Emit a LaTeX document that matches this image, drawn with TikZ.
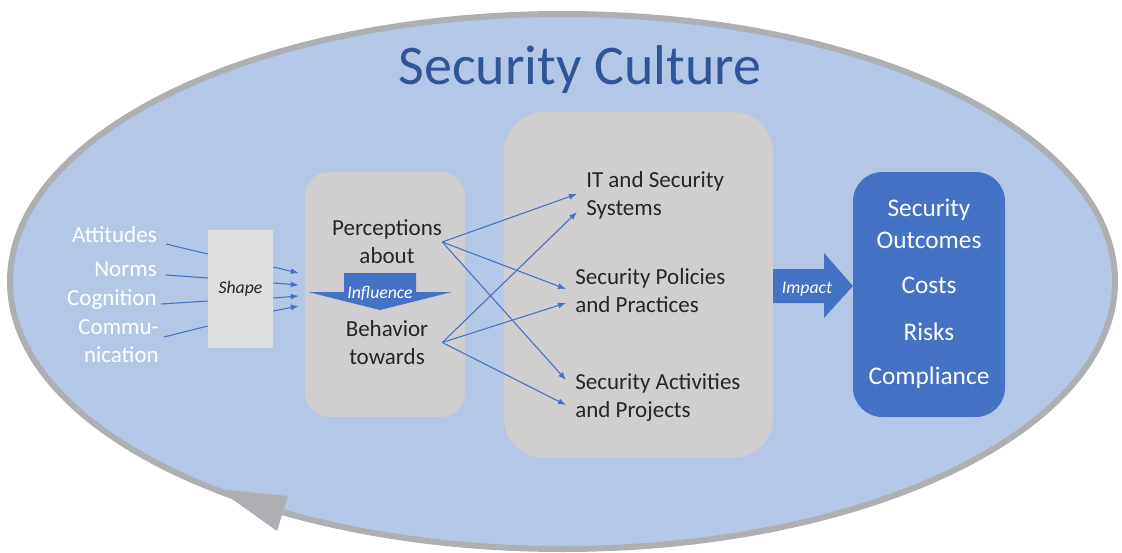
\documentclass[tikz,border=0pt]{standalone}
\usepackage{fontspec}
\setmainfont{Carlito}
\usetikzlibrary{arrows.meta,calc}

\definecolor{culture}{HTML}{B4C7E7}
\definecolor{rim}{HTML}{AEAFB2}
\definecolor{panelgray}{HTML}{D0CECE}
\definecolor{shapegray}{HTML}{DDDEE0}
\definecolor{accent}{HTML}{4472C4}
\definecolor{titleblue}{HTML}{2F5597}
\definecolor{ink}{HTML}{262626}

\tikzset{
	panel/.style = {fill = panelgray, inner sep = 0pt},
	factor/.style = {anchor = east, text = white, align = right, inner sep = 3pt, font = \fontsize{17.25}{20.5}\selectfont},
	view/.style = {text = ink, align = center, text width = 82.5pt, inner sep = 0pt, font = \fontsize{17.25}{21}\selectfont},
	item/.style = {anchor = west, text = ink, align = left, inner xsep = 6.75pt, inner ysep = 0pt, font = \fontsize{17.25}{21}\selectfont},
	result/.style = {text = white, align = center, inner sep = 0pt, font = \fontsize{19}{24}\selectfont},
	cue/.style = {text = white, inner sep = 0pt, font = \fontsize{13.3}{16}\selectfont\itshape},
	link/.style = {accent, line width = 0.8pt},
	flow/.style = {link, -{Latex[length = 6pt, width = 4.5pt]}}
}

\begin{document}
\begin{tikzpicture}[x = 0.75pt, y = -0.75pt]

	\useasboundingbox (0, 0) rectangle (1122, 553);

	% Culture ring with its arrow

	\draw [rim, line width = 4.5pt, fill = culture] (562.5, 281.5) ellipse [x radius = 552.5, y radius = 267.5];
	\fill [rim] (218, 489) -- (288, 496) -- (277, 531) -- cycle;

	\node [text = titleblue, inner sep = 0pt, font = \fontsize{42}{50}\selectfont] (title) at (580, 70) {Security Culture};

	% Boxes

	\node [fill = shapegray, minimum width = 48.75pt, minimum height = 88.5pt, inner sep = 0pt] (shaping) at (240.5, 289) {};
	\node [panel, rounded corners = 18pt, minimum width = 120pt, minimum height = 183.75pt] (percbox) at (385, 294.5) {};
	\node [panel, rounded corners = 30pt, minimum width = 201.75pt, minimum height = 259.5pt] (midbox) at (638.5, 285) {};
	\node [fill = accent, rounded corners = 22pt, minimum width = 114pt, minimum height = 183.75pt, inner sep = 0pt] (outbox) at (929, 294.5) {};

	% Factors that shape the perceptions

	\node [factor] (att) at (161, 235) {Attitudes};
	\node [factor] (norms) at (161, 269) {Norms};
	\node [factor] (cog) at (161, 300) {Cognition};
	\node [factor] (comm) at (163, 341) {Commu-\\nication};

	\node [cue, text = ink] at (shaping) {Shape};

	\foreach \f/\dx/\dy/\ey in {att/5/9/-35, norms/5/6/-11, cog/0/4/12, comm/1/-4/37}
		\draw [link] ($(\f.east) + (\dx, \dy)$) -- ($(shaping.west) + (0, \ey)$);

	\foreach \sy/\ey in {-22/-21.5, -6/-9.5, 9/1.5, 22/11.5}
		\draw [flow] ($(shaping.east) + (0, \sy)$) -- ($(percbox.west) + (-6, \ey)$);

	% Perceptions and behavior

	\node [view] (perc) at (387, 242) {Perceptions\\about};
	\node [view] (behav) at (387, 342.5) {Behavior\\towards};

	\fill [accent] (344, 273) -- (416, 273) -- (416, 292) -- (452, 292) -- (380, 310) -- (308, 292) -- (344, 292) -- cycle;
	\node [cue] (infl) at (380, 293) {Influence};

	% Security objects

	\node [item] (it) at (577, 195) {IT and Security\\Systems};
	\node [item] (pol) at (566, 291) {Security Policies\\and Practices};
	\node [item] (act) at (566, 398) {Security Activities\\and Projects};

	\foreach \src/\dst/\dy in {perc/it/-1, perc/pol/-2, perc/act/-18, behav/it/17, behav/pol/12, behav/act/7}
		\draw [flow] (\src.east) -- ($(\dst.west) + (0, \dy)$);

	% Impact on outcomes

	\fill [accent] (773, 269) -- (824, 269) -- (824, 253) -- (853, 286) -- (824, 318) -- (824, 303) -- (773, 303) -- cycle;
	\node [cue] (impact) at (807, 289) {Impact};

	\node [result] (outcomes) at (929, 224) {Security\\Outcomes};
	\node [result] (costs) at (929, 285) {Costs};
	\node [result] (risks) at (929, 332) {Risks};
	\node [result] (compl) at (929, 378) {Compliance};

\end{tikzpicture}
\end{document}
